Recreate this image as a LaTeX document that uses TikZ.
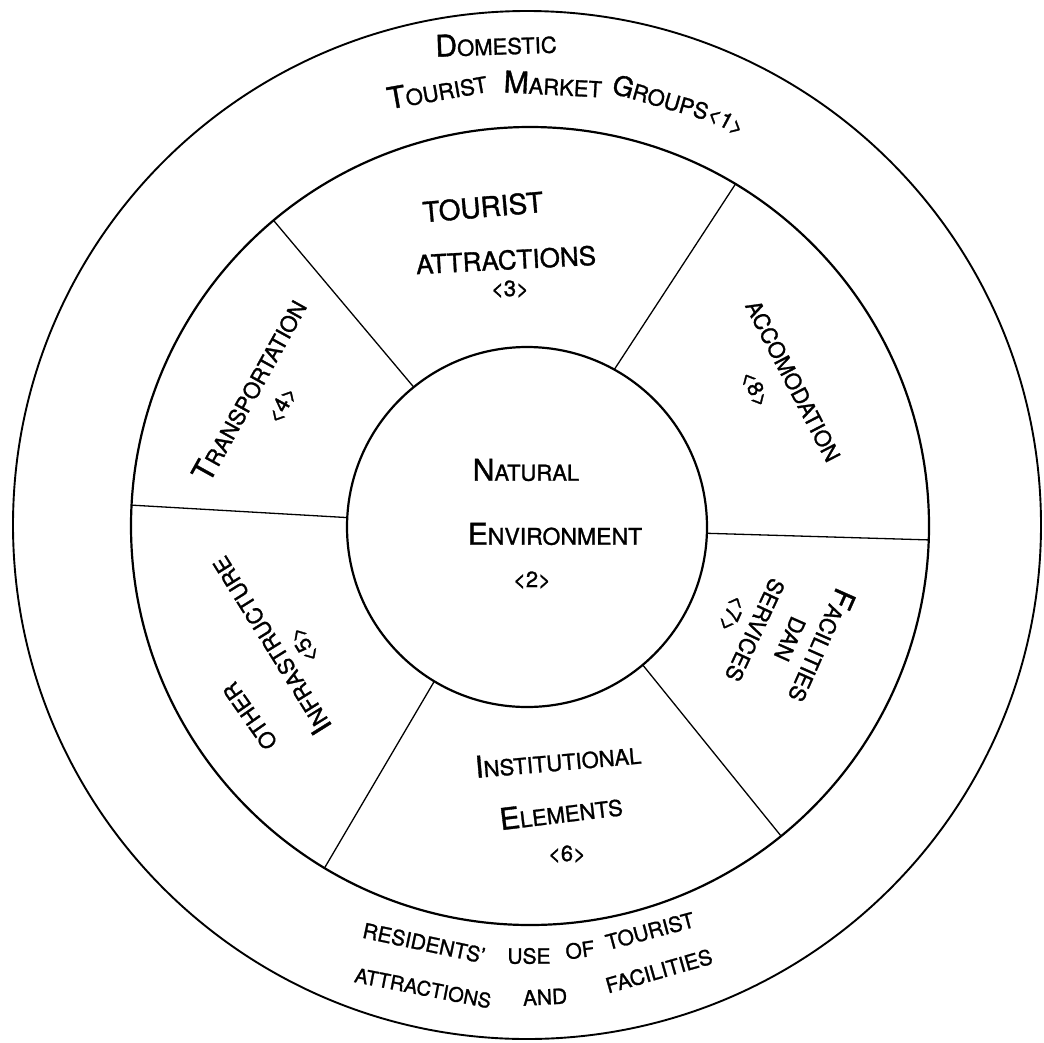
\documentclass[tikz,border=0pt]{standalone}
\usepackage{fontspec}
\setmainfont{TeX Gyre Heros}[FakeBold=1.2]
\newcommand\BgL[1]{{\fontsize{30}{33}\selectfont #1}}
\newcommand\SmL[1]{{\fontsize{22}{24}\selectfont #1}}
\newcommand\hw[2]{\BgL{#1}\SmL{#2}}
\begin{document}
\begin{tikzpicture}[x=1pt,y=1pt,
  lbl/.style={inner sep=0pt, font=\fontsize{22}{24}\selectfont},
  lblB/.style={inner sep=0pt, font=\fontsize{21}{24}\selectfont},
  ring/.style={draw, circle, inner sep=0pt, outer sep=0pt, line width=2.2pt},
  spoke/.style={line width=1.3pt}]
\useasboundingbox (0,0) rectangle (1044,-1042);
\fill[white] (0,0) rectangle (1044,-1042);
% rings
\node[ring, minimum size=1028pt, line width=1.9pt] (outer) at (527,-525) {};
\node[ring, minimum size=798pt] (middle) at (530,-526) {};
\node[ring, minimum size=360pt] (inner) at (527,-527) {};
% spokes
\draw[spoke] (inner.129) -- (middle.130);
\draw[spoke] (inner.61) -- (middle.59);
\draw[spoke] (inner.-2.5) -- (middle.-2.6);
\draw[spoke] (inner.-50) -- (middle.-51);
\draw[spoke] (inner.-121.5) -- (middle.-121.5);
\draw[spoke] (inner.177.4) -- (middle.177.6);
% outer ring, top
\node[lbl, rotate=2] (dom) at (496,-44) {\hw{D}{OMESTIC}};
\node[lbl, rotate=10] (tmg1) at (437,-90) {\hw{T}{OURIST}};
\node[lbl, rotate=-3] (tmg2) at (553,-84) {\hw{M}{ARKET}};
\node[lbl, rotate=-16] (tmg3) at (661,-97) {{\fontsize{27}{30}\selectfont G}ROUPS};
\node[lbl, rotate=-28] (tmg4) at (726,-121) {<1>};
% tourist attractions
\node[inner sep=0pt, font=\fontsize{28}{30}\selectfont, rotate=5] (ta1) at (483,-207) {TOURIST};
\node[inner sep=0pt, font=\fontsize{26}{28}\selectfont, rotate=3] (ta2) at (506,-260) {ATTRACTIONS};
\node[lbl] (ta3) at (510,-289) {<3>};
% natural environment
\node[lbl] (ne1) at (526,-470) {\hw{N}{ATURAL}};
\node[lbl] (ne2) at (555,-534) {\hw{E}{\fontsize{23}{24}\selectfont NVIRONMENT}};
\node[lbl] (ne3) at (532,-580) {<2>};
% transportation
\node[lbl, rotate=61] (tr1) at (249,-390) {\hw{T}{RANSPORTATION}};
\node[lbl, rotate=61] (tr2) at (282,-405) {<4>};
% accomodation
\node[lbl, rotate=-62.5] (ac1) at (793,-381) {ACCOMODATION};
\node[lbl, rotate=-62.5] (ac2) at (755,-389) {<8>};
% other infrastructure
\node[lbl, rotate=125] (oi1) at (250,-716) {OTHER};
\node[lbl, rotate=122] (oi2) at (270,-646) {\hw{I}{NFRASTRUCTURE}};
\node[lbl, rotate=122] (oi3) at (304,-645) {<5>};
% facilities dan services
\node[lbl, rotate=-114] (fd1) at (822,-646) {\hw{F}{ACILITIES}};
\node[lbl, rotate=-114] (fd2) at (790,-639) {DAN};
\node[lbl, rotate=-115] (fd3) at (755,-630) {SERVICES};
\node[lbl, rotate=-114] (fd4) at (732,-614) {<7>};
% institutional elements
\node[lbl, rotate=5] (ie1) at (558,-760) {\hw{I}{NSTITUTIONAL}};
\node[lbl, rotate=7] (ie2) at (561,-812) {\hw{E}{LEMENTS}};
\node[lbl] (ie3) at (567,-854) {<6>};
% outer ring, bottom
\node[lblB, rotate=-12] (rb1) at (424,-943) {RESIDENTS’};
\node[lblB] (rb2) at (529,-956) {USE};
\node[lblB, rotate=8] (rb3) at (580,-950) {OF};
\node[lblB, rotate=15] (rb4) at (650,-931) {TOURIST};
\node[inner sep=0pt, font=\fontsize{20}{22}\selectfont, rotate=-11] (rb5) at (423,-988) {ATTRACTIONS};
\node[lblB, rotate=3] (rb6) at (545,-997) {AND};
\node[lblB, rotate=16] (rb7) at (659,-971) {FACILITIES};
\end{tikzpicture}
\end{document}
